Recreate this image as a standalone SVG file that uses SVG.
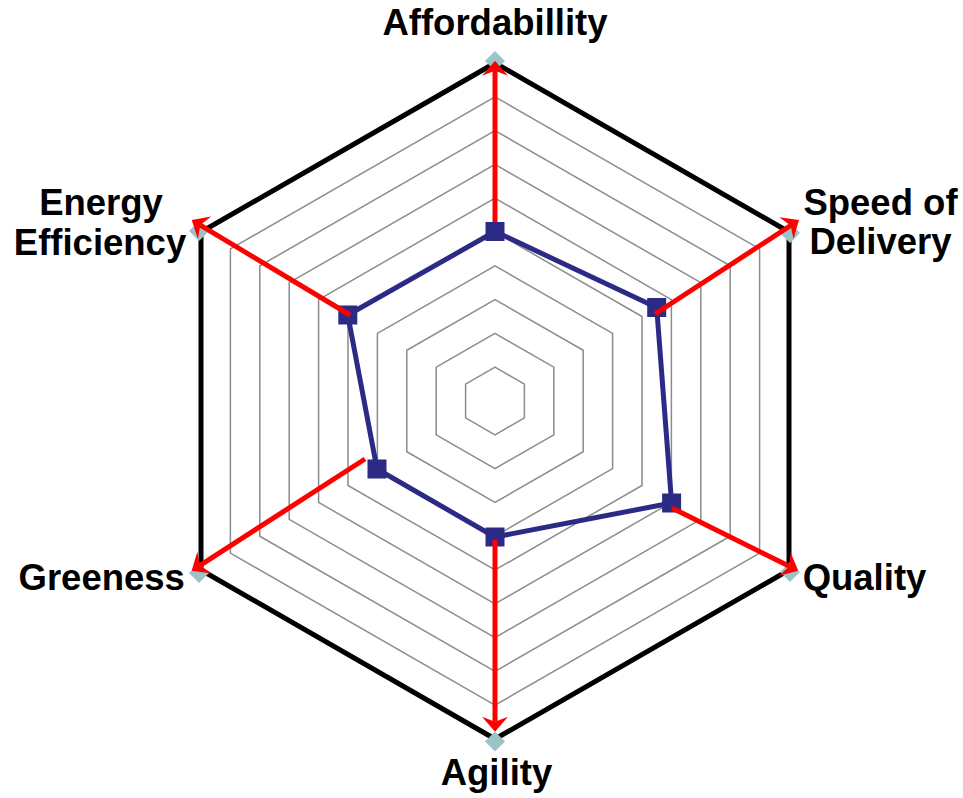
<svg xmlns="http://www.w3.org/2000/svg" width="963" height="798" viewBox="0 0 963 798">
<style>
.ring{fill:none;stroke:#8c8c8c;stroke-width:1.5}
.outer{fill:none;stroke:#000;stroke-width:5;stroke-linejoin:miter}
.diam{fill:#9cc4c8}
.series{fill:none;stroke:#2b2b85;stroke-width:5;stroke-linejoin:round}
.pt{fill:#2b2b85}
.arrow{stroke:#ff0000;stroke-width:5;fill:none;marker-end:url(#ah)}
.lbl{font-family:"Liberation Sans",Arial,sans-serif;font-weight:bold;font-size:36.5px;fill:#000;text-anchor:middle}
</style>
<defs>
<marker id="ah" markerUnits="userSpaceOnUse" orient="auto" refX="0" refY="0" markerWidth="40" markerHeight="40" overflow="visible">
<path d="M10,0 L-5,-13 L0,0 L-5,13 Z" fill="#ff0000"/>
</marker>
</defs>
<rect width="963" height="798" fill="#fff"/>
<g id="grid">
<polygon class="ring" points="495,367.2 524.4,384.1 524.4,417.9 495,434.8 465.6,417.9 465.6,384.1"/>
<polygon class="ring" points="495,333.4 553.8,367.2 553.8,434.8 495,468.6 436.2,434.8 436.2,367.2"/>
<polygon class="ring" points="495,299.6 583.2,350.3 583.2,451.7 495,502.4 406.8,451.7 406.8,350.3"/>
<polygon class="ring" points="495,265.8 612.6,333.4 612.6,468.6 495,536.2 377.4,468.6 377.4,333.4"/>
<polygon class="ring" points="495,232 642,316.5 642,485.5 495,570 348,485.5 348,316.5"/>
<polygon class="ring" points="495,198.2 671.4,299.6 671.4,502.4 495,603.8 318.6,502.4 318.6,299.6"/>
<polygon class="ring" points="495,164.4 700.8,282.7 700.8,519.3 495,637.6 289.2,519.3 289.2,282.7"/>
<polygon class="ring" points="495,130.6 730.2,265.8 730.2,536.2 495,671.4 259.8,536.2 259.8,265.8"/>
<polygon class="ring" points="495,96.8 759.6,248.9 759.6,553.1 495,705.2 230.4,553.1 230.4,248.9"/>
<polygon class="outer" points="495,63 789,232 789,570 495,739 201,570 201,232"/>
</g>
<g id="vertex-markers">
<polygon class="diam" points="495,51 505,61 495,71 485,61"/>
<polygon class="diam" points="790,223 800,233 790,243 780,233"/>
<polygon class="diam" points="790,562 800,572 790,582 780,572"/>
<polygon class="diam" points="495,731.5 505,741.5 495,751.5 485,741.5"/>
<polygon class="diam" points="199,563 209,573 199,583 189,573"/>
<polygon class="diam" points="199,221 209,231 199,241 189,231"/>
</g>
<g id="series">
<polygon class="series" points="495,231.5 656.7,307.5 671.6,503 495,537 377,469 347.8,315"/>
<rect class="pt" x="485.5" y="222" width="19" height="19"/>
<rect class="pt" x="647.2" y="298" width="19" height="19"/>
<rect class="pt" x="662.1" y="493.5" width="19" height="19"/>
<rect class="pt" x="485.5" y="527.5" width="19" height="19"/>
<rect class="pt" x="367.5" y="459.5" width="19" height="19"/>
<rect class="pt" x="338.3" y="305.5" width="19" height="19"/>
</g>
<g id="connectors">
<line class="arrow" x1="495" y1="222" x2="495" y2="70.7"/>
<line class="arrow" x1="655" y1="314" x2="790.6" y2="225.5"/>
<line class="arrow" x1="672" y1="508" x2="789.3" y2="566.3"/>
<line class="arrow" x1="495" y1="540" x2="495" y2="721.7"/>
<line class="arrow" x1="365" y1="459" x2="200.1" y2="565.3"/>
<line class="arrow" x1="350" y1="315" x2="200.3" y2="225.1"/>
</g>
<g id="labels">
<g id="affordability"><text class="lbl" x="495" y="35">Affordabillity</text></g>
<g id="speed"><text class="lbl" x="880.5" y="215">Speed of</text><text class="lbl" x="880.5" y="254">Delivery</text></g>
<g id="quality"><text class="lbl" x="864.5" y="590">Quality</text></g>
<g id="agility"><text class="lbl" x="496.5" y="785">Agility</text></g>
<g id="greeness"><text class="lbl" x="101.7" y="590">Greeness</text></g>
<g id="energy"><text class="lbl" x="101" y="215">Energy</text><text class="lbl" x="100" y="255">Efficiency</text></g>
</g>
</svg>
